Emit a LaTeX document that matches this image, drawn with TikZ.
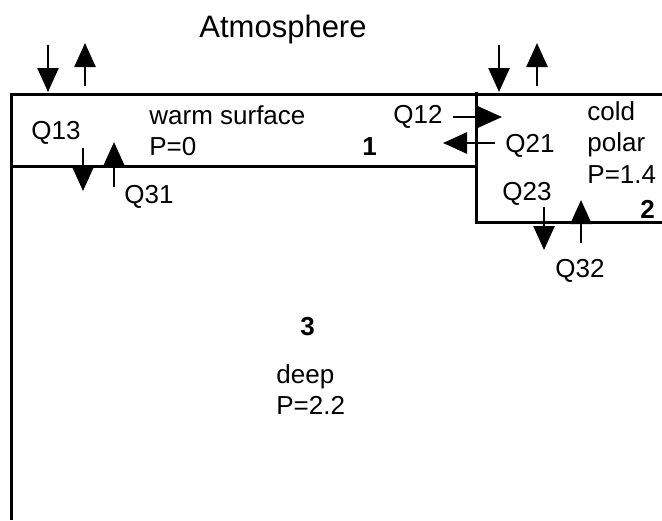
\documentclass[tikz,border=0pt]{standalone}
\usepackage{fontspec}
\setmainfont{Liberation Sans}
\usetikzlibrary{arrows.meta,positioning}

\begin{document}
\begin{tikzpicture}[
  x=0.5pt, y=-0.5pt,
  every node/.style={inner sep=0pt, anchor=base west, font=\fontsize{13}{15.5}\selectfont},
  wall/.style={line width=1.5pt},
  flux/.style={-{Triangle[length=12pt,width=10.5pt]}, line width=1.3pt},
  boxno/.style={font=\fontsize{13}{15.5}\selectfont\bfseries}
]
  \useasboundingbox (0,0) rectangle (662,520);

  % box outlines
  \coordinate (tl) at (11,94);
  \coordinate (tr) at (662,94);
  \coordinate (bl) at (11,520);
  \coordinate (d1) at (476,166);
  \coordinate (c1) at (476,92);
  \coordinate (c2) at (476,222);
  \coordinate (c3) at (662,222);

  \draw[wall] (tr) -- (tl) -- (bl);
  \draw[wall] (11,166) -- (d1);
  \draw[wall] (c1) -- (c2) -- (c3);

  % labels
  \node[anchor=base, font=\fontsize{15.5}{18}\selectfont] (atm) at (283,37) {Atmosphere};

  \node (warm) at (149,124) {warm surface};
  \node (warmP) at (149,155) {P=0};
  \node[boxno] (one) at (362,155) {1};

  \node (cold) at (587,120) {cold};
  \node (polar) at (587,151) {polar};
  \node (coldP) at (587,183) {P=1.4};
  \node[boxno] (two) at (640,218) {2};

  \node[boxno] (three) at (300,335) {3};
  \node (deep) at (276,383) {deep};
  \node (deepP) at (276,414) {P=2.2};

  \node (q13) at (31,139) {Q13};
  \node (q31) at (124,203) {Q31};
  \node (q12) at (393,123) {Q12};
  \node (q21) at (505,152) {Q21};
  \node (q23) at (502,200) {Q23};
  \node (q32) at (555,277) {Q32};

  % fluxes
  \draw[flux] (48,45) -- (48,92);
  \draw[flux] (85,86) -- (85,43);
  \draw[flux] (499,45) -- (499,92);
  \draw[flux] (537,86) -- (537,43);
  \draw[flux] (83,148) -- (83,191);
  \draw[flux] (114,187) -- (114,142);
  \draw[flux] (453,117) -- (502,117);
  \draw[flux] (495,143) -- (443,143);
  \draw[flux] (544,207) -- (544,250);
  \draw[flux] (581,243) -- (581,200);

\end{tikzpicture}
\end{document}
